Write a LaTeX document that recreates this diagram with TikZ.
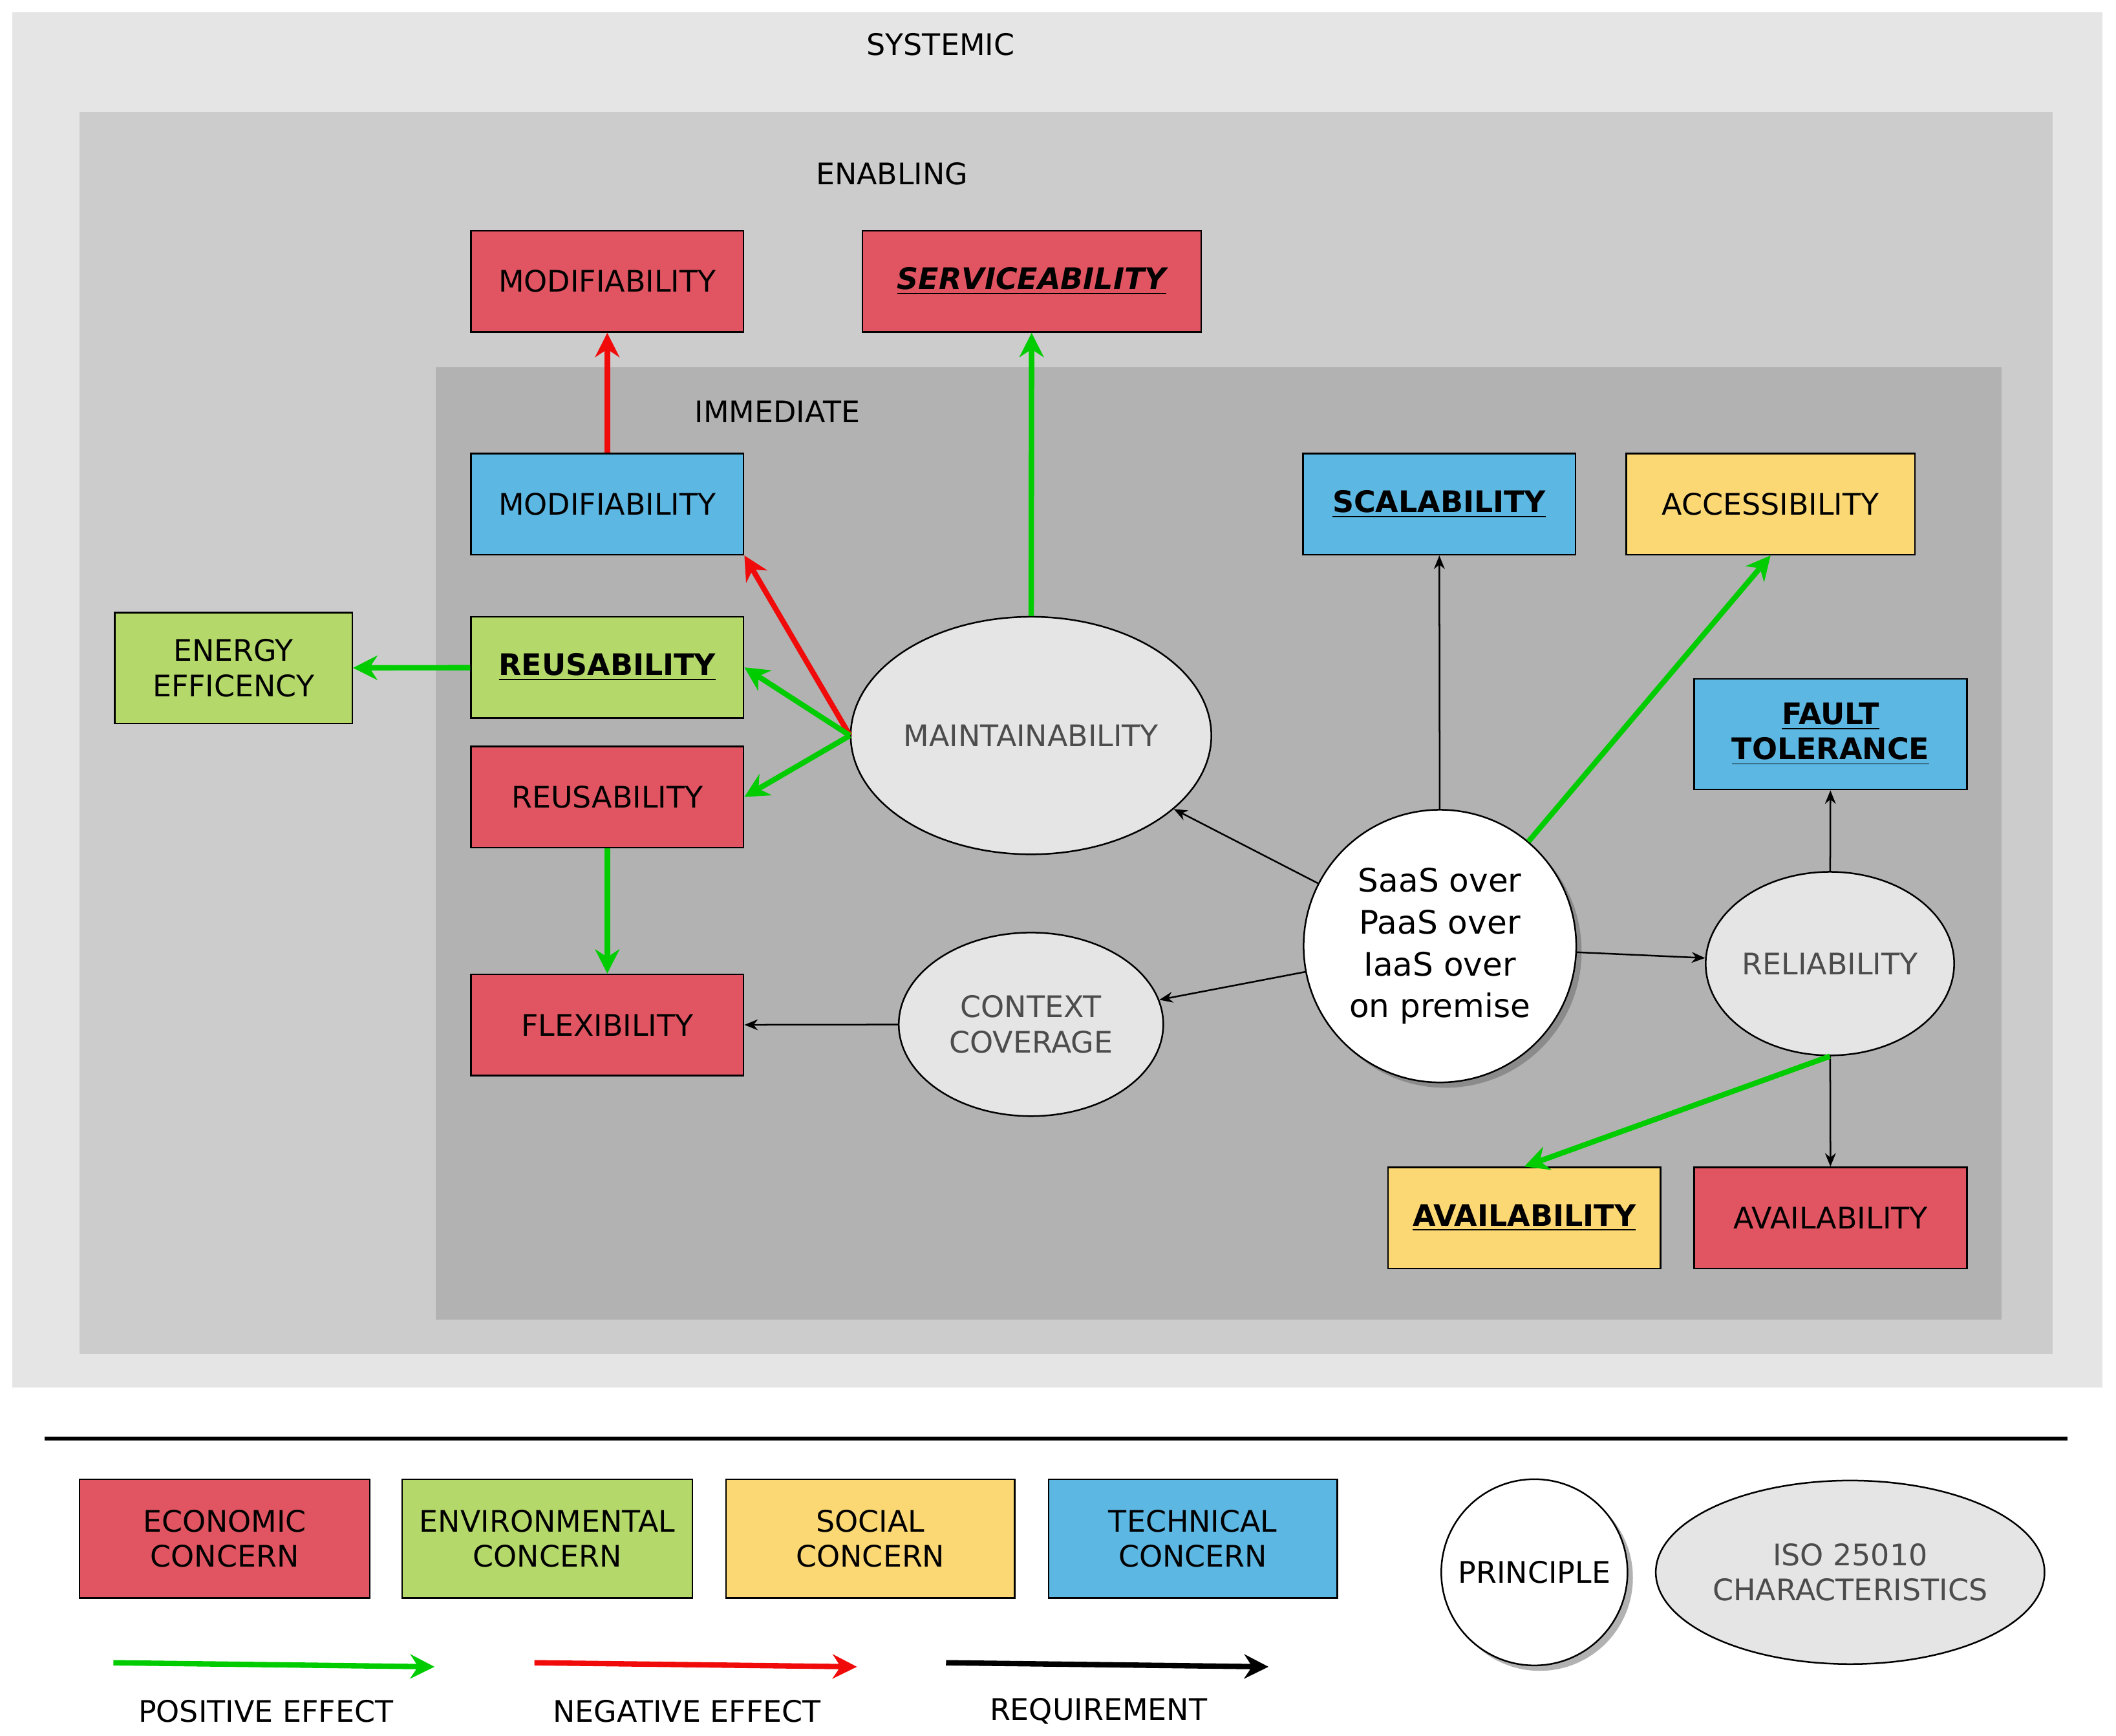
\documentclass[tikz,border=0pt]{standalone}
\usepackage{fontspec}
\setmainfont{DejaVu Sans}
\usetikzlibrary{shapes.geometric,arrows.meta,shadows}
\definecolor{cred}{RGB}{224,85,97}
\definecolor{cgreen}{RGB}{181,216,107}
\definecolor{cyellow}{RGB}{252,216,116}
\definecolor{cblue}{RGB}{93,183,227}
\definecolor{pgreen}{RGB}{0,204,0}
\definecolor{pred}{RGB}{240,10,10}
\tikzset{
 box/.style={draw=black,line width=0.6pt,minimum width=101pt,minimum height=37.5pt,font=\fontsize{11}{13}\selectfont,align=center,inner sep=0pt},
 ell/.style={ellipse,draw=black,line width=0.6pt,fill=gray!20,text=black!70,font=\fontsize{11}{13}\selectfont,align=center,inner sep=0pt},
 posarr/.style={draw=pgreen,line width=2pt,-{Stealth[length=9pt,width=9pt]}},
 negarr/.style={draw=pred,line width=2pt,-{Stealth[length=9pt,width=9pt]}},
 reqarr/.style={draw=black,line width=0.6pt,-{Stealth[length=5pt,width=4pt]}},
 lab/.style={font=\fontsize{11}{13}\selectfont}
}
\begin{document}
\begin{tikzpicture}[x=0.5pt,y=-0.5pt]
\useasboundingbox (0,0) rectangle (1568,1286);
\fill[white] (0,0) rectangle (1568,1286);
\fill[black!10] (9,9) rectangle (1558,1028);
\fill[black!20] (59,83) rectangle (1521,1003);
\fill[black!30] (323,272) rectangle (1483,978);
\node[lab] (tsys) at (697,33) {SYSTEMIC};
\node[lab] (tena) at (661,129) {ENABLING};
\node[lab] (timm) at (576,305) {IMMEDIATE};

\node[box,fill=cred] (modr) at (450,208.5) {MODIFIABILITY};
\node[box,fill=cred,minimum width=125.5pt] (serv) at (764.5,208.5) {\textbf{\textit{\underline{SERVICEABILITY}}}};
\node[box,fill=cblue] (modb) at (450,373.5) {MODIFIABILITY};
\node[box,fill=cblue] (scal) at (1066.5,373.5) {\textbf{\underline{SCALABILITY}}};
\node[box,fill=cyellow,minimum width=107pt] (acc) at (1312,373.5) {ACCESSIBILITY};
\node[box,fill=cgreen,minimum width=88pt,minimum height=41pt] (ener) at (173,495) {ENERGY\\EFFICENCY};
\node[box,fill=cgreen] (reug) at (450,494.5) {\textbf{\underline{REUSABILITY}}};
\node[box,fill=cred] (reur) at (450,590.5) {REUSABILITY};
\node[box,fill=cblue,minimum height=41pt] (fault) at (1356.5,544) {\textbf{\underline{FAULT}}\\\textbf{\underline{TOLERANCE}}};
\node[box,fill=cred] (flex) at (450,759.5) {FLEXIBILITY};
\node[box,fill=cyellow] (avay) at (1129.5,902.5) {\textbf{\underline{AVAILABILITY}}};
\node[box,fill=cred] (avar) at (1356.5,902.5) {AVAILABILITY};

\node[ell,minimum width=122pt,minimum height=88pt] (main) at (764,545) {MAINTAINABILITY};
\node[ell,minimum width=98pt,minimum height=68pt] (ctx) at (764,759) {CONTEXT\\COVERAGE};
\node[ell,minimum width=92pt,minimum height=68pt] (rel) at (1356,714) {RELIABILITY};
\node[circle,draw=black,line width=0.6pt,fill=white,text=black,minimum size=101pt,align=center,inner sep=0pt,font=\fontsize{12}{15.5}\selectfont,drop shadow={shadow xshift=2pt,shadow yshift=-2pt,fill=black!60}] (saas) at (1067,701) {SaaS over\\PaaS over\\IaaS over\\on premise};

\draw[negarr] (modb) -- (modr);
\draw[posarr] (main) -- (serv);
\draw[negarr] (main.west) -- (modb.south east);
\draw[posarr] (main.west) -- (reug.east);
\draw[posarr] (main.west) -- (reur.east);
\draw[posarr] (reug) -- (ener);
\draw[posarr] (reur) -- (flex);
\draw[reqarr] (ctx) -- (flex);
\draw[reqarr] (saas) -- (main);
\draw[reqarr] (saas) -- (scal);
\draw[posarr] (saas) -- (acc.south);
\draw[reqarr] (saas) -- (ctx);
\draw[reqarr] (saas) -- (rel);
\draw[reqarr] (rel) -- (fault);
\draw[reqarr] (rel) -- (avar);
\draw[posarr] (rel.south) -- (avay.north);

\draw[line width=1.5pt] (33,1066) coordinate (l1) -- (1532,1066) coordinate (l2);
\node[box,fill=cred,minimum width=107.5pt,minimum height=44pt] (lec) at (166.5,1140) {ECONOMIC\\CONCERN};
\node[box,fill=cgreen,minimum width=107.5pt,minimum height=44pt] (len) at (405.5,1140) {ENVIRONMENTAL\\CONCERN};
\node[box,fill=cyellow,minimum width=107pt,minimum height=44pt] (lso) at (645,1140) {SOCIAL\\CONCERN};
\node[box,fill=cblue,minimum width=107pt,minimum height=44pt] (lte) at (884,1140) {TECHNICAL\\CONCERN};
\node[circle,draw=black,line width=0.6pt,fill=white,minimum size=69pt,inner sep=0pt,font=\fontsize{11}{13}\selectfont,drop shadow={shadow xshift=2pt,shadow yshift=-2pt,fill=black!60}] (lpr) at (1137,1165) {PRINCIPLE};
\node[ell,minimum width=133pt,minimum height=68pt] (liso) at (1371,1165) {ISO 25010\\CHARACTERISTICS};
\coordinate (g1) at (84,1232); \coordinate (g2) at (322,1235);
\coordinate (r1) at (396,1232); \coordinate (r2) at (635,1235);
\coordinate (b1) at (701,1232); \coordinate (b2) at (940,1235);
\draw[posarr] (g1) -- (g2);
\draw[negarr] (r1) -- (r2);
\draw[line width=2pt,-{Stealth[length=9pt,width=9pt]}] (b1) -- (b2);
\node[lab] (lp) at (197,1268) {POSITIVE EFFECT};
\node[lab] (ln) at (509,1268) {NEGATIVE EFFECT};
\node[lab] (lr) at (814,1268) {REQUIREMENT};
\end{tikzpicture}
\end{document}
